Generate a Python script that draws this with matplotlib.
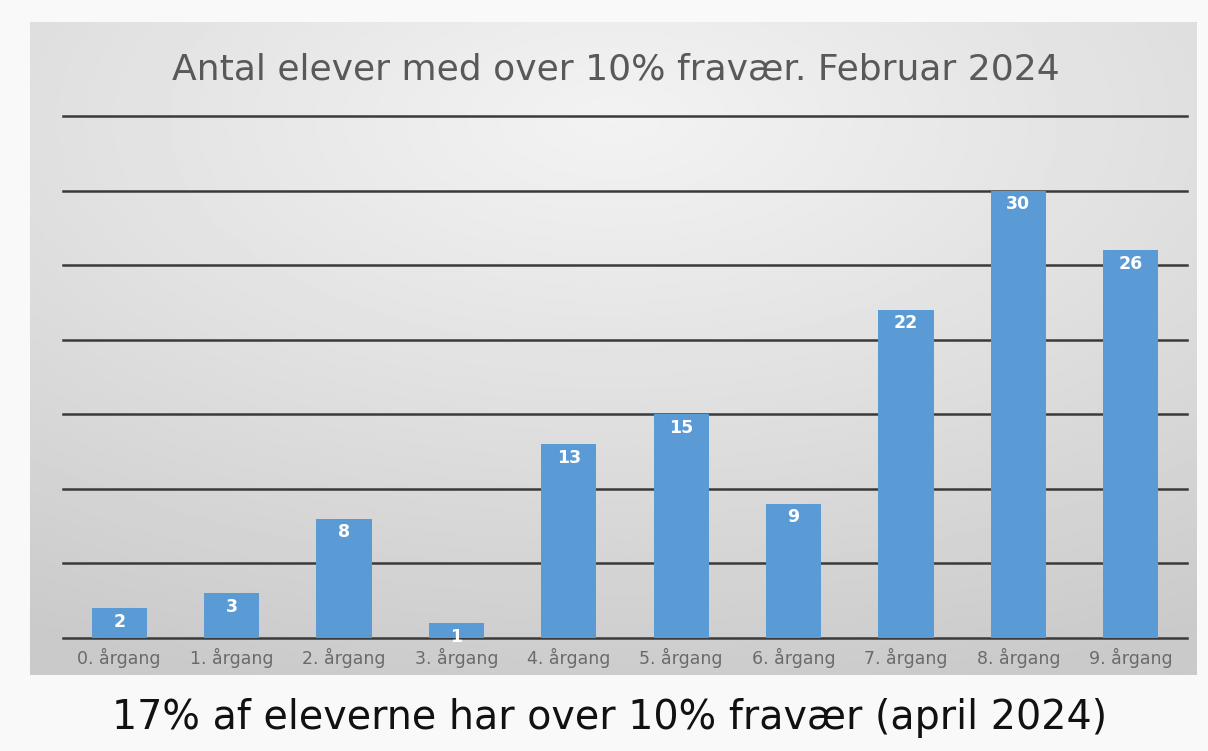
import matplotlib.pyplot as plt
import numpy as np

categories = ['0. årgang', '1. årgang', '2. årgang', '3. årgang', '4. årgang',
              '5. årgang', '6. årgang', '7. årgang', '8. årgang', '9. årgang']
values = [2, 3, 8, 1, 13, 15, 9, 22, 30, 26]
title = 'Antal elever med over 10% fravær. Februar 2024'
footer = '17% af eleverne har over 10% fravær (april 2024)'

W, H = 1208, 751
fig = plt.figure(figsize=(W / 100, H / 100), dpi=100)
fig.patch.set_facecolor('#f9f9f9')

# grey panel with soft radial gradient
bg = fig.add_axes([30 / W, 1 - 675 / H, 1167 / W, 653 / H])
yy, xx = np.mgrid[0:1:300j, 0:1:500j]
r = np.sqrt(((xx - 0.5) * 1.0) ** 2 + ((yy - 0.15) * 1.1) ** 2)
r = np.clip(r / 1.0, 0, 1)
light, dark = 0.95, 0.79
img = light - (light - dark) * r ** 1.1
bg.imshow(img, cmap='gray', vmin=0, vmax=1, aspect='auto', extent=[0, 1, 1, 0])
bg.set_axis_off()

ax = fig.add_axes([63 / W, 1 - 638 / H, 1124 / W, (638 - 116) / H])
ax.patch.set_alpha(0)
x = np.arange(len(categories))
bars = ax.bar(x, values, width=0.49, color='#5b9bd5', zorder=3)
for b, v in zip(bars, values):
    ax.text(b.get_x() + b.get_width() / 2, v - 0.3, str(v), ha='center', va='top',
            color='white', fontsize=12.5, fontweight='bold', zorder=4)

ax.set_xlim(-0.5, len(categories) - 0.5)
ax.set_ylim(0, 35)
ax.set_yticks(np.arange(0, 36, 5))
ax.yaxis.grid(True, color='#3a3a3a', linewidth=1.8, zorder=1)
for gl in ax.get_ygridlines():
    gl.set_clip_on(False)
ax.tick_params(axis='y', left=False, labelleft=False)
ax.tick_params(axis='x', length=0, pad=7, labelsize=12.5, labelcolor='#6a6a6a')
ax.set_xticks(x)
ax.set_xticklabels(categories)
for s in ax.spines.values():
    s.set_visible(False)

fig.text(616 / W, 1 - 70 / H, title, ha='center', va='center', fontsize=26, color='#595959')
fig.text(610 / W, 1 - 718 / H, footer, ha='center', va='center', fontsize=28.5, color='#111111')

fig.savefig('out.png', dpi=100)
